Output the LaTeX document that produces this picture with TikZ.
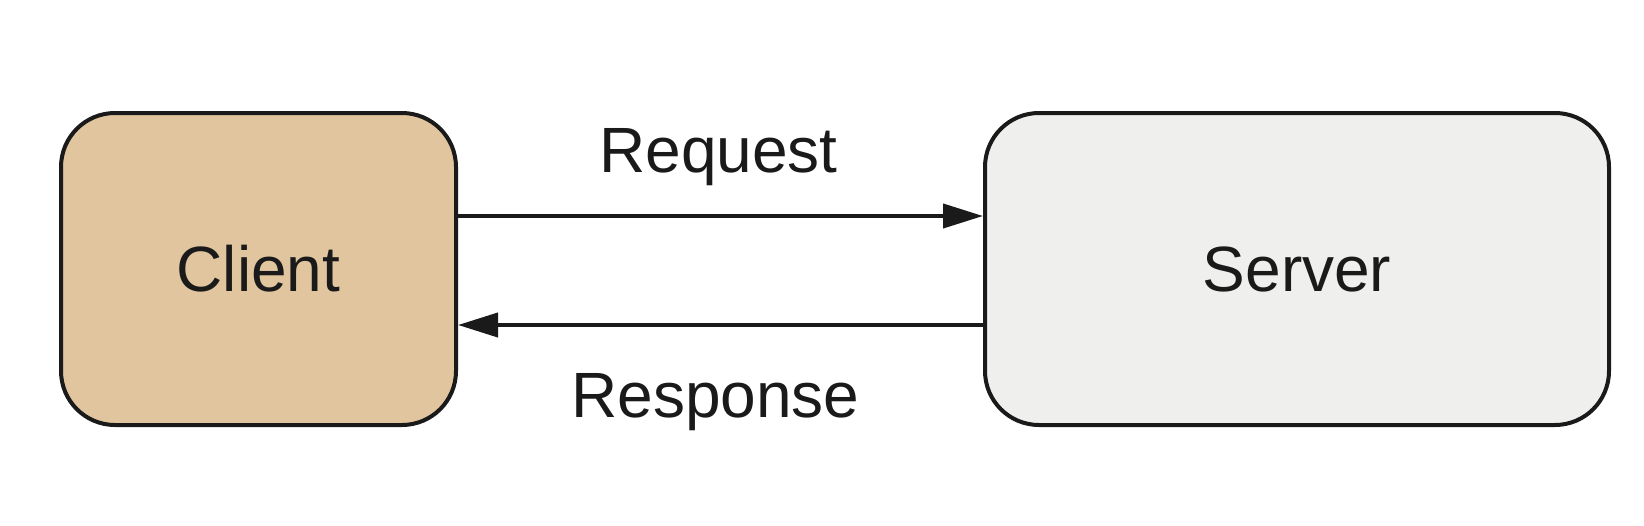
\documentclass[tikz,border=0pt]{standalone}
\usepackage{fontspec}
\setmainfont{Liberation Sans}
\usetikzlibrary{calc,arrows.meta}

\definecolor{clientfill}{HTML}{E0C59E}
\definecolor{serverfill}{HTML}{EFEFED}
\definecolor{ink}{HTML}{1A1A1A}

\tikzset{
    box/.style={draw=ink, line width=2pt, rounded corners=27pt,
        minimum height=156pt, inner sep=0pt,
        font=\fontsize{32}{38}\selectfont, text=ink},
    msg/.style={draw=ink, line width=2pt,
        -{Triangle[length=20pt, width=12pt]}},
    msglabel/.style={font=\fontsize{32}{38}\selectfont, text=ink, anchor=base}
}

\begin{document}
\begin{tikzpicture}[x=0.5pt, y=-0.5pt]
    % Fix the page size
    \useasboundingbox (0, 0) rectangle (1644, 525);

    % Define the two boxes
    \node[box, fill=clientfill, minimum width=197.5pt] (client) at (258.5, 269) {Client};
    \node[box, fill=serverfill, minimum width=312pt]   (server) at (1297, 269)  {Server};

    % End points of the messages
    \coordinate (reqA) at ($(client.east) + (0, -53)$);
    \coordinate (reqB) at ($(server.west) + (0, -53)$);
    \coordinate (resA) at ($(server.west) + (0, 56)$);
    \coordinate (resB) at ($(client.east) + (0, 56)$);

    % Draw the messages
    \draw[msg] (reqA) -- (reqB);
    \draw[msg] (resA) -- (resB);

    % Label the messages
    \node[msglabel] (reqlabel) at ($(reqA)!0.5!(reqB) + (-2, -44)$) {Request};
    \node[msglabel] (reslabel) at ($(resA)!0.5!(resB) + (-5, 92)$) {Response};
\end{tikzpicture}
\end{document}
